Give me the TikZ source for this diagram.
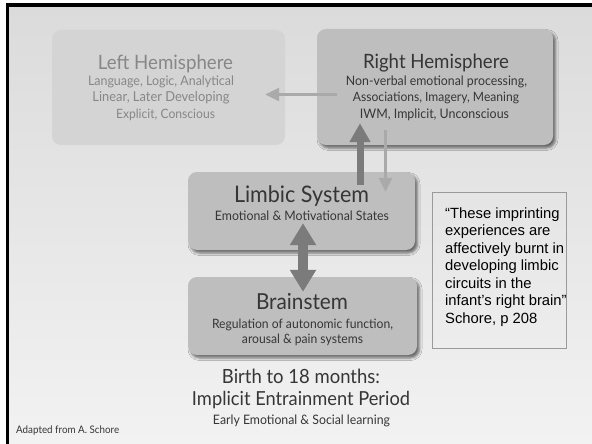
\documentclass[tikz,border=0pt]{standalone}
\usepackage{fontspec}
\setmainfont{Lato}
\newfontfamily\arialf{Liberation Sans}
\usetikzlibrary{arrows.meta,shadows.blur}
\definecolor{bgtop}{HTML}{DBDBDB}
\definecolor{bgbot}{HTML}{F2F2F2}
\definecolor{boxfill}{HTML}{BEBEBE}
\definecolor{fadefill}{HTML}{D4D4D4}
\definecolor{fadetext}{HTML}{878787}
\definecolor{darktext}{HTML}{363636}
\definecolor{darkarrow}{HTML}{7B7B7B}
\definecolor{lightarrow}{HTML}{AAAAAA}
\definecolor{quoteline}{HTML}{9A9A9A}
% fit text to a target width, slightly stretched vertically
\newcommand\fitw[2]{\scalebox{1}[1.06]{\resizebox{#1pt}{!}{#2}}}
\tikzset{
  mainbox/.style={rounded corners=9pt, fill=boxfill, inner sep=0pt,
    blur shadow={shadow xshift=2.5pt, shadow yshift=-3pt, shadow blur radius=2.5pt, shadow opacity=55}},
  fadebox/.style={rounded corners=9pt, fill=fadefill, inner sep=0pt},
  quotebox/.style={draw=quoteline, line width=0.8pt, inner sep=0pt},
  dtext/.style={text=darktext, inner sep=0pt, anchor=base},
  ftext/.style={text=fadetext, inner sep=0pt, anchor=base},
  thickarrow/.style={draw=darkarrow, line width=7pt, -{Triangle[length=19pt,width=20pt]}},
  dblarrow/.style={draw=darkarrow, line width=10pt, {Triangle[length=22pt,width=25pt]}-{Triangle[length=22pt,width=25pt]}},
  thinarrow/.style={draw=lightarrow, line width=3pt, -{Triangle[length=14pt,width=13pt]}}
}
\begin{document}
\begin{tikzpicture}[x=1pt,y=-1pt]
\useasboundingbox (0,0) rectangle (592,444);
% frame and background
\fill[white] (0,0) rectangle (592,444);
\shade[top color=bgtop, bottom color=bgbot] (9,7) rectangle (592,444);
\fill[black] (6,3) rectangle (9,444);
\fill[black] (6,3) rectangle (592,7);
% boxes
\node[fadebox, minimum width=233pt, minimum height=115pt] (lh) at (168.5,87.5) {};
\node[mainbox, minimum width=236pt, minimum height=116pt] (rh) at (435,87) {};
\node[mainbox, minimum width=227pt, minimum height=78pt] (lim) at (301.5,211) {};
\node[mainbox, minimum width=229pt, minimum height=78pt] (bs) at (302.5,316) {};
\node[quotebox, minimum width=134pt, minimum height=156pt] (qb) at (499,270) {};
% arrows
\draw[thinarrow] ([shift={(20,7.5)}]rh.west) -- ([shift={(-20,7)}]lh.east);
\draw[thickarrow] ([shift={(58.5,13)}]lim.north) -- ([shift={(-75,-22)}]rh.south);
\draw[thinarrow] ([shift={(-49.5,-15)}]rh.south) -- ([shift={(84,20)}]lim.north);
\draw[dblarrow] ([shift={(1.5,-27)}]lim.south) -- ([shift={(0.5,15)}]bs.north);
% left hemisphere text
\node[ftext] (lt0) at (165.5,69) {\fitw{135}{Left Hemisphere}};
\node[ftext] (lt1) at (161,86) {\fitw{146}{Language, Logic, Analytical}};
\node[ftext] (lt2) at (161,102) {\fitw{137}{Linear, Later Developing}};
\node[ftext] (lt3) at (165.5,118) {\fitw{99}{Explicit, Conscious}};
% right hemisphere text
\node[dtext] (rt0) at (436,69) {\fitw{146}{Right Hemisphere}};
\node[dtext] (rt1) at (436.5,86) {\fitw{181}{Non-verbal emotional processing,}};
\node[dtext] (rt2) at (436,102) {\fitw{166}{Associations, Imagery, Meaning}};
\node[dtext] (rt3) at (434.5,118) {\fitw{149}{IWM, Implicit, Unconscious}};
% limbic text
\node[dtext] (lm0) at (301.5,202) {\fitw{135}{Limbic System}};
\node[dtext] (lm1) at (302,220) {\fitw{174}{Emotional \& Motivational States}};
% brainstem text
\node[dtext] (bs0) at (302,309) {\fitw{92}{Brainstem}};
\node[dtext] (bs1) at (302.5,328) {\fitw{181}{Regulation of autonomic function,}};
\node[dtext] (bs2) at (302.5,343) {\fitw{121}{arousal \& pain systems}};
% bottom text
\node[dtext] (bt0) at (301,383) {\fitw{158}{Birth to 18 months:}};
\node[dtext] (bt1) at (301,405) {\fitw{218}{Implicit Entrainment Period}};
\node[dtext] (bt2) at (301.5,424) {\fitw{177}{Early Emotional \& Social learning}};
\node[dtext, anchor=base west] (src) at (16,433) {\fitw{103}{Adapted from A. Schore}};
% quote
\node[anchor=base west, inner sep=0pt, text=black] (qt) at (445,218)
  {\arialf\fontsize{14.8}{17.5}\selectfont
   \begin{tabular}[t]{@{}l@{}}
   “These imprinting\\
   experiences are\\
   affectively burnt in\\
   developing limbic\\
   circuits in the\\
   infant’s right brain”\\
   Schore, p 208
   \end{tabular}};
\end{tikzpicture}
\end{document}
